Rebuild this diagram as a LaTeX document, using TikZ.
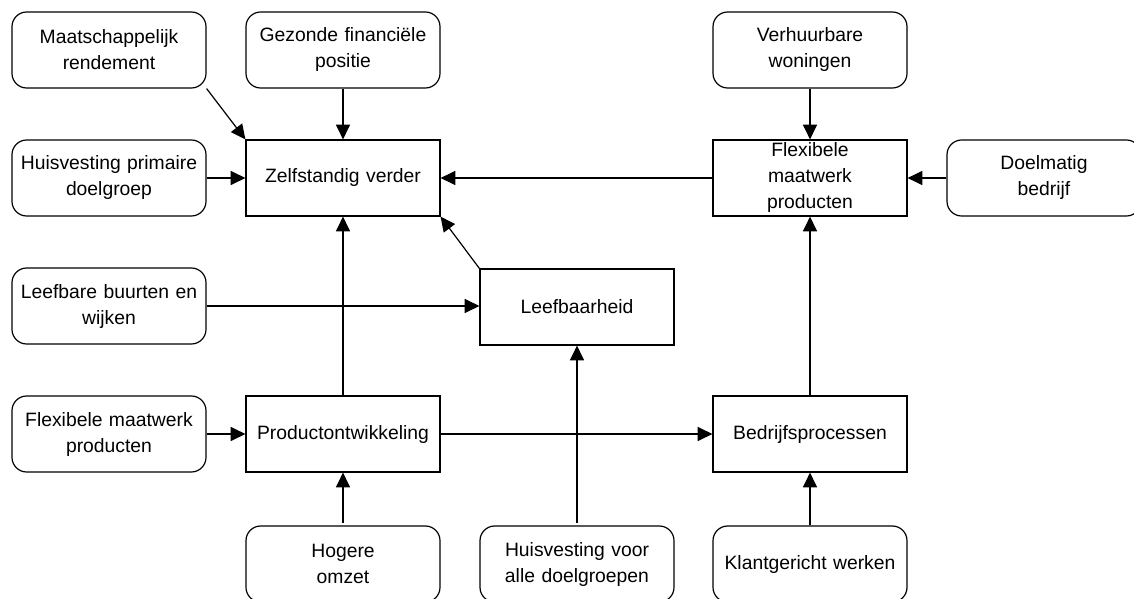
\documentclass[tikz,border=0pt]{standalone}
\usepackage{fontspec}
\setmainfont{Liberation Sans}
\usetikzlibrary{arrows.meta}
\begin{document}
\begin{tikzpicture}[x=0.75pt,y=-0.75pt,
  every node/.style={font=\fontsize{14.5}{19.5}\selectfont, align=center, inner sep=0pt},
  goal/.style={draw, line width=0.9pt, rounded corners=11pt, minimum width=145.5pt, minimum height=57pt, text width=140pt},
  core/.style={draw, line width=0.9pt, minimum width=145.5pt, minimum height=57pt, text width=140pt},
  arr/.style={line width=0.9pt, -{Triangle[length=11pt,width=10.5pt]}}]
\useasboundingbox (0,0) rectangle (1134,599);
% top row
\node[goal] (mr) at (109,50) {Maatschappelijk\\rendement};
\node[goal] (gf) at (343,50) {Gezonde financiële\\positie};
\node[goal] (vw) at (810,50) {Verhuurbare\\woningen};
% second row
\node[goal] (hp) at (109,178) {Huisvesting primaire\\doelgroep};
\node[core] (zv) at (343,178) {Zelfstandig verder};
\node[core] (fm) at (810,178) {Flexibele\\maatwerk\\producten};
\node[goal] (db) at (1044,178) {Doelmatig\\bedrijf};
% third row
\node[goal] (lbw) at (109,306) {Leefbare buurten en\\wijken};
\node[core] (lb) at (577,307) {Leefbaarheid};
% fourth row
\node[goal] (fmp) at (109,434) {Flexibele maatwerk\\producten};
\node[core] (po) at (343,434) {Productontwikkeling};
\node[core] (bp) at (810,434) {Bedrijfsprocessen};
% bottom row
\node[goal] (ho) at (343,564) {Hogere\\omzet};
\node[goal] (hv) at (577,564) {Huisvesting voor\\alle doelgroepen};
\node[goal] (kw) at (810,564) {Klantgericht werken};
% connectors
\draw[arr] (mr.south east) -- (zv.north west);
\draw[arr] (gf.south) -- (zv.north);
\draw[arr] (hp.east) -- (zv.west);
\draw[arr] (fm.west) -- (zv.east);
\draw[arr] (vw.south) -- (fm.north);
\draw[arr] (db.west) -- (fm.east);
\draw[arr] (lb.north west) -- (zv.south east);
\draw[arr] (lbw.east) -- (lbw.east -| lb.west);
\draw[arr] (po.north) -- (zv.south);
\draw[arr] (fmp.east) -- (po.west);
\draw[arr] (po.east) -- (bp.west);
\draw[arr] (bp.north) -- (fm.south);
\draw[arr] ([yshift=2pt]ho.north) -- (po.south);
\draw[arr] ([yshift=2pt]hv.north) -- (lb.south);
\draw[arr] (kw.north) -- (bp.south);
\end{tikzpicture}
\end{document}
